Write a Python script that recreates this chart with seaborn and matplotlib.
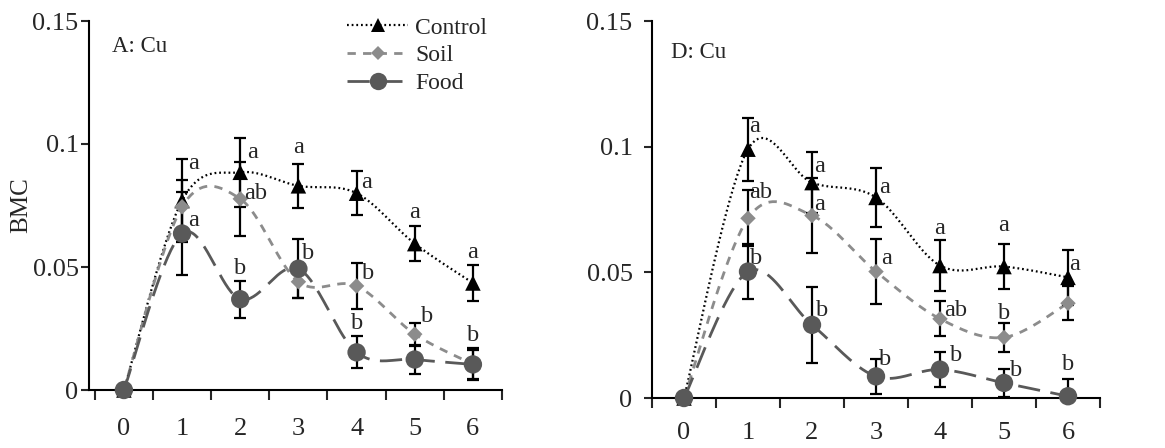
import numpy as np
import pandas as pd
import matplotlib
matplotlib.use("Agg")
import matplotlib.pyplot as plt
import seaborn as sns
from matplotlib.lines import Line2D

# ---------------- data ----------------
weeks = [0, 1, 2, 3, 4, 5, 6]
series = ["Control", "Soil", "Food"]

a_control = [0, 0.077, 0.0885, 0.083, 0.080, 0.0595, 0.0435]
a_control_err = [0, 0.017, 0.014, 0.009, 0.009, 0.007, 0.0073]
a_soil = [0, 0.0745, 0.0777, 0.044, 0.0423, 0.0227, 0.0105]
a_soil_err = [0, 0.011, 0.015, 0.0067, 0.0095, 0.0047, 0.0065]
a_food = [0, 0.0636, 0.0369, 0.0493, 0.0153, 0.0124, 0.0104]
a_food_err = [0, 0.017, 0.0075, 0.012, 0.0065, 0.0057, 0.006]

d_control = [0, 0.099, 0.0857, 0.0798, 0.0527, 0.0523, 0.048]
d_control_err = [0, 0.0125, 0.012, 0.0116, 0.010, 0.009, 0.011]
d_soil = [0, 0.0715, 0.0726, 0.0503, 0.0315, 0.0241, 0.0377]
d_soil_err = [0, 0.0112, 0.015, 0.013, 0.007, 0.0058, 0.0067]
d_food = [0, 0.0503, 0.0291, 0.0086, 0.0113, 0.006, 0.0007]
d_food_err = [0, 0.011, 0.015, 0.007, 0.007, 0.0057, 0.007]

# significance letters: (week, y, text, x-offset)
a_letters = [(1, 0.092, "a", 0.2), (1, 0.069, "a", 0.2),
             (2, 0.0966, "a", 0.22), (2, 0.0797, "ab", 0.27), (2, 0.0493, "b", 0.0),
             (3, 0.0986, "a", 0.0), (3, 0.0554, "b", 0.17),
             (4, 0.0845, "a", 0.17), (4, 0.0473, "b", 0.2), (4, 0.0270, "b", 0.0),
             (5, 0.0723, "a", 0.0), (5, 0.0297, "b", 0.22),
             (6, 0.0560, "a", 0.0), (6, 0.0223, "b", 0.0)]
d_letters = [(1, 0.108, "a", 0.1), (1, 0.0817, "ab", 0.2), (1, 0.0556, "b", 0.12),
             (2, 0.092, "a", 0.12), (2, 0.0768, "a", 0.12), (2, 0.035, "b", 0.16),
             (3, 0.0838, "a", 0.13), (3, 0.0556, "a", 0.16), (3, 0.0152, "b", 0.14),
             (4, 0.0675, "a", 0.0), (4, 0.035, "ab", 0.25), (4, 0.0168, "b", 0.25),
             (5, 0.0688, "a", 0.0), (5, 0.0338, "b", 0.0), (5, 0.011, "b", 0.19),
             (6, 0.053, "a", 0.1), (6, 0.0132, "b", 0.0)]

# ---------------- style ----------------
sns.set_style("white")
plt.rcParams["font.family"] = ["Liberation Serif", "DejaVu Serif"]

colors = {"Control": "#000000", "Soil": "#8c8c8c", "Food": "#595959"}
markers = {"Control": "^", "Soil": "D", "Food": "o"}
msize = {"Control": 125, "Soil": 62, "Food": 175}
dashes = {"Control": (0.8, 1.3), "Soil": (3.0, 2.6), "Food": (8.0, 3.8)}
lws = {"Control": 1.6, "Soil": 2.0, "Food": 2.0}


def smooth(x, y, n=40):
    P = np.column_stack([np.asarray(x, float), np.asarray(y, float)])
    out = []
    for i in range(len(P) - 1):
        p0 = P[max(i - 1, 0)]
        p1 = P[i]
        p2 = P[i + 1]
        p3 = P[min(i + 2, len(P) - 1)]
        c1 = p1 + (p2 - p0) / 6.0
        c2 = p2 - (p3 - p1) / 6.0
        t = np.linspace(0, 1, n)[:, None]
        seg = (1 - t) ** 3 * p1 + 3 * (1 - t) ** 2 * t * c1 + 3 * (1 - t) * t ** 2 * c2 + t ** 3 * p2
        out.append(seg if i == 0 else seg[1:])
    return np.vstack(out)


fig = plt.figure(figsize=(11.65, 4.48), dpi=100)
W, H = 1165, 448
axA = fig.add_axes([89 / W, (H - 390) / H, (502 - 89) / W, (390 - 21) / H])
axD = fig.add_axes([652 / W, (H - 398) / H, (1100 - 652) / W, (398 - 21) / H])


def draw(ax, vals, errs, letters, xlim, ypad, xpad):
    frames = []
    for s in series:
        frames.append(pd.DataFrame({"week": weeks, "BMC": vals[s], "err": errs[s], "series": s}))
    df = pd.concat(frames, ignore_index=True)
    for s in series:
        sub = df[df.series == s]
        curve = smooth(sub.week, sub.BMC)
        ax.plot(curve[:, 0], curve[:, 1], color=colors[s], lw=lws[s],
                dashes=dashes[s], zorder=2, clip_on=False)
    for s in series:
        sub = df[df.series == s]
        ax.errorbar(sub.week[1:], sub.BMC[1:], yerr=sub.err[1:], fmt="none",
                    ecolor="black", elinewidth=1.6, capsize=4.5, capthick=1.6, zorder=3)
    sns.scatterplot(data=df, x="week", y="BMC", hue="series", style="series",
                    markers=markers, palette=colors, size="series", sizes=msize,
                    legend=False, ax=ax, linewidth=0, zorder=4, clip_on=False)
    for wk, yy, txt, dx in letters:
        ax.text(wk + dx, yy, txt, ha="center", va="center", fontsize=17.5, zorder=5)

    ax.set_xlim(*xlim)
    ax.set_ylim(0, 0.15)
    ax.set_yticks([0, 0.05, 0.1, 0.15])
    ax.set_yticklabels(["0", "0.05", "0.1", "0.15"])
    ax.set_xticks(weeks)
    ax.set_xticklabels([str(w) for w in weeks])
    ax.set_xticks(np.arange(-0.5, 6.6, 1.0), minor=True)
    ax.tick_params(axis="x", which="major", length=0, pad=xpad, labelsize=19)
    ax.tick_params(axis="x", which="minor", length=7, width=1.5, direction="out", bottom=True)
    ax.tick_params(axis="y", which="major", length=6, width=1.5, direction="out", left=True,
                   pad=ypad, labelsize=19)
    for side in ["top", "right"]:
        ax.spines[side].set_visible(False)
    for side in ["left", "bottom"]:
        ax.spines[side].set_color("black")
        ax.spines[side].set_linewidth(1.5)
    ax.set_xlabel("")
    ax.set_ylabel("")


draw(axA,
     {"Control": a_control, "Soil": a_soil, "Food": a_food},
     {"Control": a_control_err, "Soil": a_soil_err, "Food": a_food_err},
     a_letters, (-0.6, 6.5), 1.5, 20)
draw(axD,
     {"Control": d_control, "Soil": d_soil, "Food": d_food},
     {"Control": d_control_err, "Soil": d_soil_err, "Food": d_food_err},
     d_letters, (-0.5, 6.5), 8, 17)

axA.set_ylabel("BMC", fontsize=18)
axA.yaxis.set_label_coords(-0.138, 0.5)

fig.text(112 / W, 1 - 47 / H, "A: Cu", fontsize=16.5, ha="left", va="center")
fig.text(671 / W, 1 - 53 / H, "D: Cu", fontsize=16.5, ha="left", va="center")

handles = []
for s in series:
    handles.append(Line2D([0], [0], color=colors[s], lw=lws[s], dashes=dashes[s],
                          marker=markers[s], markersize={"Control": 10.5, "Soil": 7.5, "Food": 12.5}[s],
                          markerfacecolor=colors[s], markeredgewidth=0))
fig.legend(handles=handles, labels=series, loc="upper left",
           bbox_to_anchor=(347 / W, 1 - 17 / H), frameon=False, fontsize=17,
           handlelength=2.6, handletextpad=0.3, labelspacing=0.27, borderpad=0,
           borderaxespad=0)

fig.savefig("out.png", dpi=100)
